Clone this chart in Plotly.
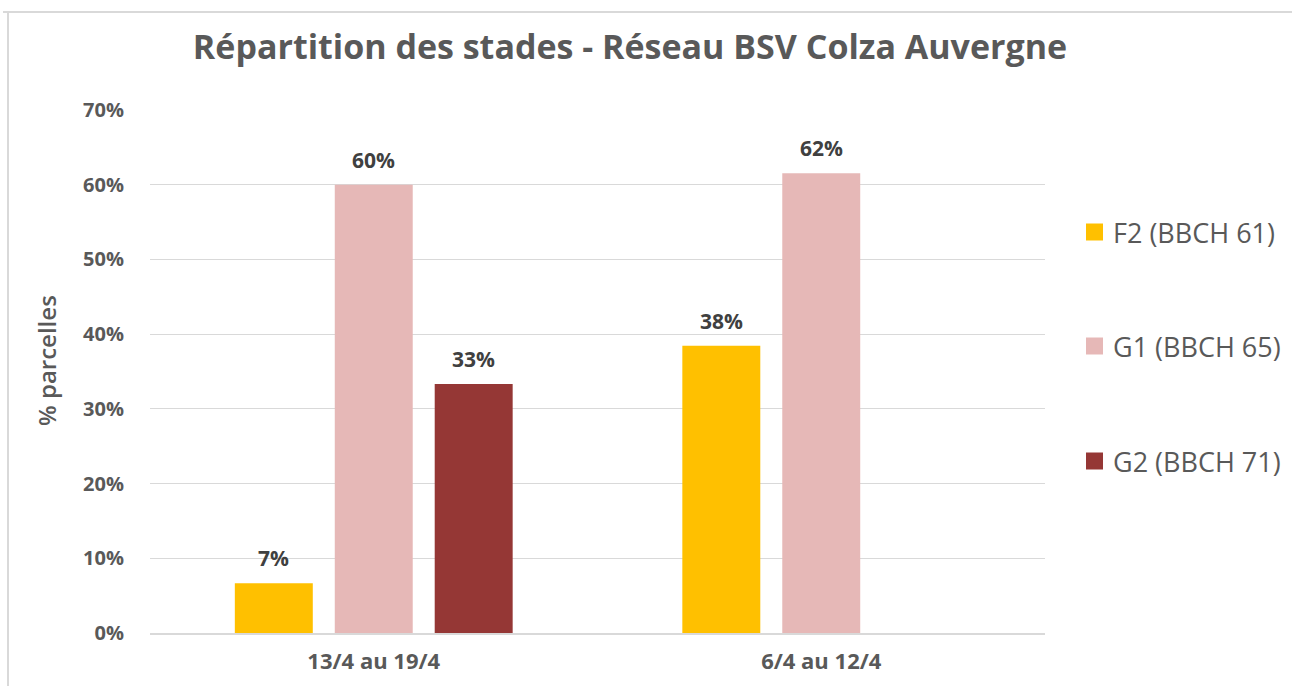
import plotly.graph_objects as go

categories = ["13/4 au 19/4", "6/4 au 12/4"]
series_names = ["F2 (BBCH 61)", "G1 (BBCH 65)", "G2 (BBCH 71)"]
f2_values = [0.0667, 0.3846]
g1_values = [0.60, 0.6154]
g2_values = [0.3333, None]
colors = ["#FFC000", "#E6B8B7", "#953735"]
y_title = "% parcelles"
chart_title = "Répartition des stades - Réseau BSV Colza Auvergne"

W, H = 1292, 686
L, R, T, B = 150, 1045, 110, 633
GREY = "#595959"
BARGAP, GROUPGAP = 0.33, 0.22

def px_x(px):
    return (px - L) / (R - L)

def px_y(py):
    return (B - py) / (B - T)

all_series = [f2_values, g1_values, g2_values]
n_series = len(all_series)
slot_px = (R - L) / len(categories) * (1 - BARGAP) / n_series

fig = go.Figure()
for i, (name, vals, col) in enumerate(zip(series_names, all_series, colors)):
    fig.add_trace(go.Bar(
        x=categories, y=vals, name=name, marker=dict(color=col, line=dict(width=0)),
        showlegend=False,
    ))
    # value labels placed at each bar's top via the axes
    for cat, v in zip(categories, vals):
        if v is None:
            continue
        fig.add_annotation(x=cat, y=v, xref="x", yref="y", text=f"{v:.0%}",
                           xshift=(i - (n_series - 1) / 2) * slot_px, yshift=9,
                           xanchor="center", yanchor="bottom", showarrow=False,
                           font=dict(family="Open Sans", size=21, color="#404040", weight="bold"))

fig.update_layout(
    width=W, height=H,
    margin=dict(l=L, r=W - R, t=T, b=H - B),
    paper_bgcolor="white", plot_bgcolor="white",
    barmode="group", bargap=BARGAP, bargroupgap=GROUPGAP,
    title=dict(text=f"<b>{chart_title}</b>",
               x=630 / W, xanchor="center", y=1 - 47 / H, yanchor="middle",
               font=dict(family="Open Sans", size=34, color=GREY)),
    showlegend=False,
    xaxis=dict(showgrid=False, showline=True, linecolor="#d9d9d9", linewidth=2,
               ticks="", tickfont=dict(family="Open Sans", size=22, color=GREY, weight="bold"),
               ticklabelstandoff=8),
    yaxis=dict(range=[0, 0.70], dtick=0.1, tickformat=".0%", showgrid=True,
               gridcolor="#d9d9d9", gridwidth=1, zeroline=False, showline=False,
               tickfont=dict(family="Open Sans", size=20, color=GREY, weight="bold"),
               ticklabelstandoff=25),
)

# legend drawn manually (square swatches + labels)
legend_centers = [232, 346, 461]
for name, col, cy in zip(series_names, colors, legend_centers):
    fig.add_shape(type="rect", xref="paper", yref="paper",
                  x0=px_x(1086), x1=px_x(1103), y0=px_y(cy + 8.5), y1=px_y(cy - 8.5),
                  fillcolor=col, line=dict(width=0))
    fig.add_annotation(text=name, xref="paper", yref="paper", x=px_x(1111), y=px_y(cy),
                       xanchor="left", yanchor="middle", showarrow=False,
                       font=dict(family="Open Sans", size=27, color=GREY))

# y-axis title placed as annotation
fig.add_annotation(text=y_title, xref="paper", yref="paper", x=px_x(46), y=px_y(361),
                   xanchor="center", yanchor="middle", textangle=-90, showarrow=False,
                   font=dict(family="Open Sans", size=24, color=GREY, weight=600))

# outer chart border (top and left)
fig.add_shape(type="line", xref="paper", yref="paper",
              x0=px_x(3), x1=px_x(W), y0=px_y(12), y1=px_y(12),
              line=dict(color="#d9d9d9", width=2))
fig.add_shape(type="line", xref="paper", yref="paper",
              x0=px_x(8), x1=px_x(8), y0=px_y(12), y1=px_y(H + 5),
              line=dict(color="#d9d9d9", width=2))

fig.write_html("out.html", config={"displayModeBar": False},
               post_script="document.body.style.margin='0';")
